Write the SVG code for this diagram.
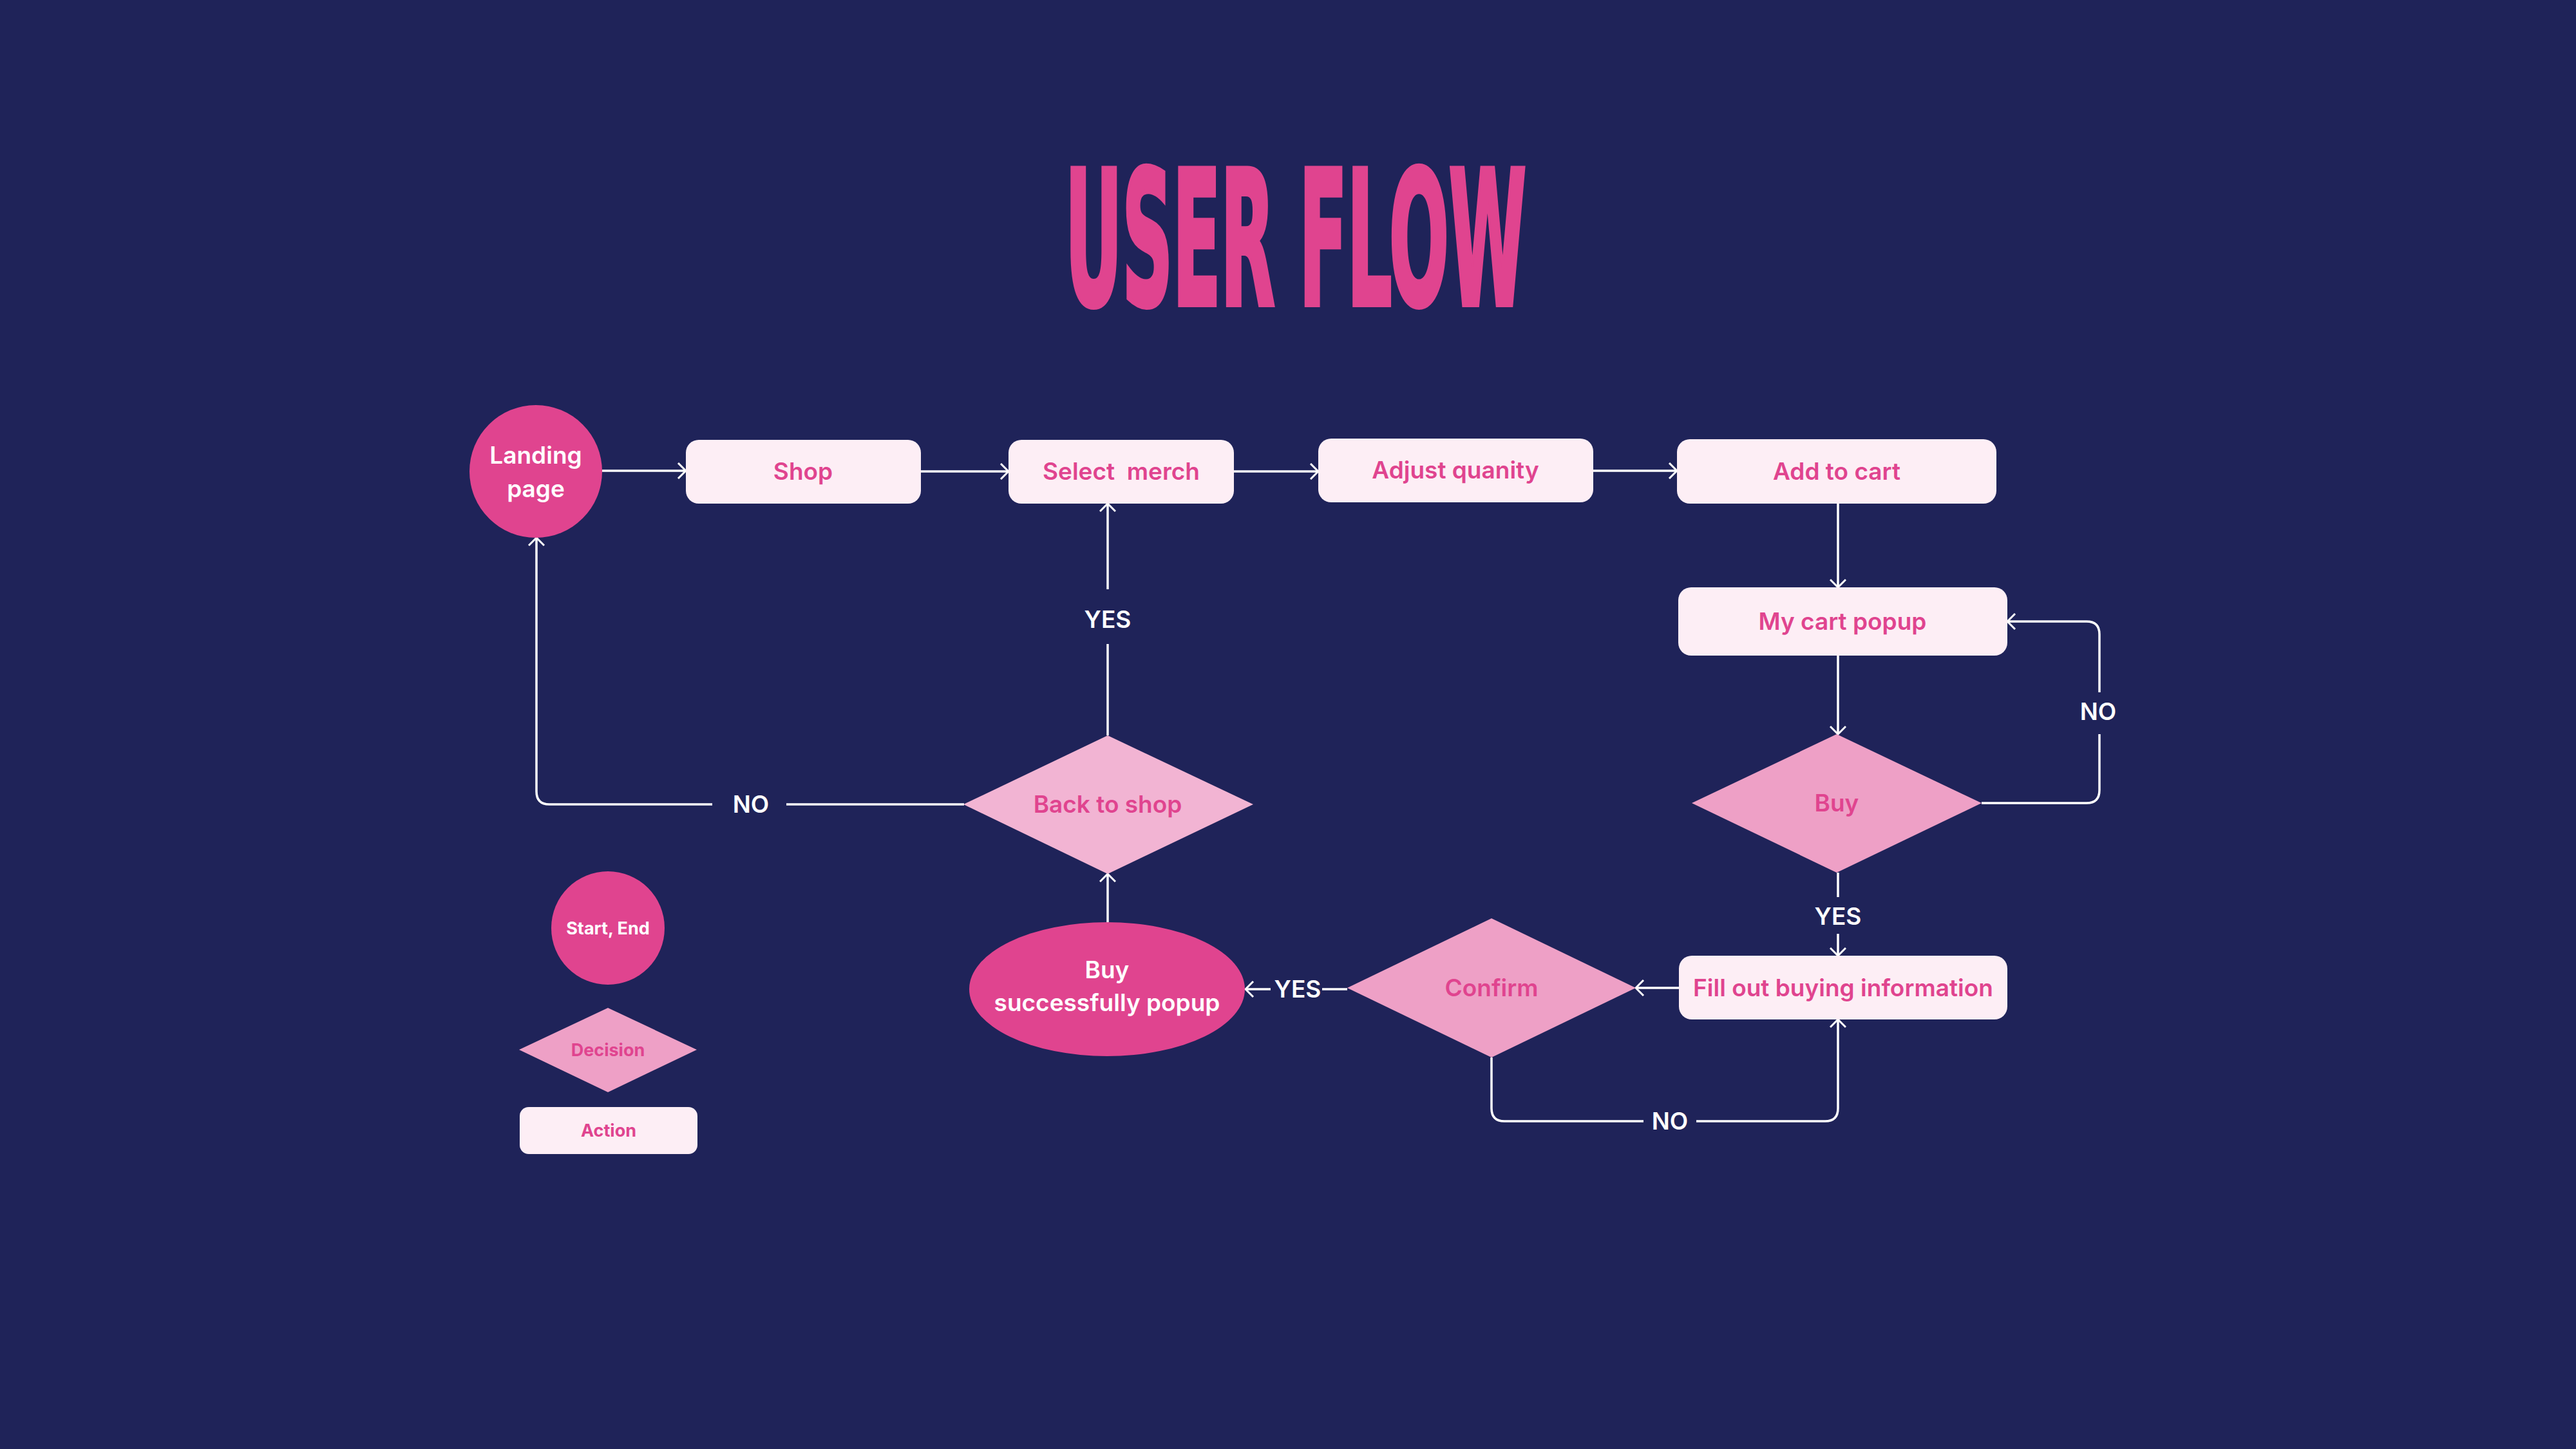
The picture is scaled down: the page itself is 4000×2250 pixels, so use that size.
<svg xmlns="http://www.w3.org/2000/svg" width="4000" height="2250" viewBox="0 0 4000 2250">
<defs>
<style>
.t{font-family:Inter,"Noto Sans","Liberation Sans",sans-serif;font-weight:600;font-size:37px;text-anchor:middle}
.pk{fill:#e0448f}
.wh{fill:#ffffff}
.act{fill:#fdeef5}
.dec{fill:#eea0c6}
.dec2{fill:#f2b4d3}
.se{fill:#e0448f}
.ln{fill:none;stroke:#ffffff;stroke-width:3.5}
.lg{font-size:27px;font-weight:700}
</style>
<marker id="arr" viewBox="0 0 16 26" refX="14" refY="13" markerWidth="16" markerHeight="26" markerUnits="userSpaceOnUse" orient="auto">
<path d="M2,1 L14,13 L2,25" fill="none" stroke="#ffffff" stroke-width="3"/>
</marker>
</defs>
<rect width="4000" height="2250" fill="#1f2359"/>
<text x="2012" y="473" font-family="'DejaVu Sans Condensed','DejaVu Sans',sans-serif" font-weight="bold" font-size="290" fill="#e0448f" stroke="#e0448f" stroke-width="8" stroke-linejoin="miter" text-anchor="middle" textLength="716" lengthAdjust="spacingAndGlyphs">USER FLOW</text>

<g id="connectors">
<path class="ln" marker-end="url(#arr)" d="M935,731 H1065"/>
<path class="ln" marker-end="url(#arr)" d="M1430,732 H1566"/>
<path class="ln" marker-end="url(#arr)" d="M1916,732 H2047"/>
<path class="ln" marker-end="url(#arr)" d="M2474,731 H2604"/>
<path class="ln" marker-end="url(#arr)" d="M2854,782 V912"/>
<path class="ln" marker-end="url(#arr)" d="M2854,1018 V1140"/>
<path class="ln" d="M3077,1247 H3240 Q3260,1247 3260,1227 V1140"/>
<path class="ln" marker-end="url(#arr)" d="M3260,1075 V985 Q3260,965 3240,965 H3117"/>
<path class="ln" d="M2854,1355 V1393"/>
<path class="ln" marker-end="url(#arr)" d="M2854,1450 V1484"/>
<path class="ln" marker-end="url(#arr)" d="M2607,1534 H2540"/>
<path class="ln" d="M2316,1642 V1721 Q2316,1741 2336,1741 H2552"/>
<path class="ln" marker-end="url(#arr)" d="M2634,1741 H2834 Q2854,1741 2854,1721 V1583"/>
<path class="ln" d="M2092,1536 H2053"/>
<path class="ln" marker-end="url(#arr)" d="M1973,1536 H1934"/>
<path class="ln" marker-end="url(#arr)" d="M1720,1432 V1357"/>
<path class="ln" d="M1720,1142 V1000"/>
<path class="ln" marker-end="url(#arr)" d="M1720,915 V782"/>
<path class="ln" d="M1497,1249 H1221"/>
<path class="ln" marker-end="url(#arr)" d="M1106,1249 H853 Q833,1249 833,1229 V835"/>
<text class="t wh" x="1720" y="975">YES</text>
<text class="t wh" x="1166" y="1262">NO</text>
<text class="t wh" x="3258" y="1118">NO</text>
<text class="t wh" x="2854" y="1436">YES</text>
<text class="t wh" x="2015" y="1549">YES</text>
<text class="t wh" x="2593" y="1754">NO</text>
</g>

<g id="landing">
<circle class="se" cx="832" cy="732" r="103"/>
<text class="t wh" x="832" y="720">Landing</text>
<text class="t wh" x="832" y="772">page</text>
</g>
<g id="shop">
<rect class="act" x="1065" y="683" width="365" height="99" rx="20"/>
<text class="t pk" x="1247" y="745">Shop</text>
</g>
<g id="select">
<rect class="act" x="1566" y="683" width="350" height="99" rx="20"/>
<text class="t pk" x="1741" y="745" xml:space="preserve">Select  merch</text>
</g>
<g id="adjust">
<rect class="act" x="2047" y="681" width="427" height="99" rx="20"/>
<text class="t pk" x="2260" y="743">Adjust quanity</text>
</g>
<g id="addcart">
<rect class="act" x="2604" y="682" width="496" height="100" rx="20"/>
<text class="t pk" x="2852" y="745">Add to cart</text>
</g>
<g id="mycart">
<rect class="act" x="2606" y="912" width="511" height="106" rx="20"/>
<text class="t pk" x="2861" y="978">My cart popup</text>
</g>
<g id="buy">
<polygon class="dec" points="2852,1140 3077,1247 2852,1355 2627,1247"/>
<text class="t pk" x="2852" y="1260">Buy</text>
</g>
<g id="fillout">
<rect class="act" x="2607" y="1484" width="510" height="99" rx="20"/>
<text class="t pk" x="2862" y="1547">Fill out buying information</text>
</g>
<g id="confirm">
<polygon class="dec" points="2316,1426 2540,1534 2316,1642 2092,1534"/>
<text class="t pk" x="2316" y="1547">Confirm</text>
</g>
<g id="buysuccess">
<ellipse class="se" cx="1719" cy="1536" rx="214" ry="104"/>
<text class="t wh" x="1719" y="1519">Buy</text>
<text class="t wh" x="1719" y="1570">successfully popup</text>
</g>
<g id="backtoshop">
<polygon class="dec2" points="1720,1142 1946,1249 1720,1357 1496,1249"/>
<text class="t pk" x="1720" y="1262">Back to shop</text>
</g>

<g id="legend-start">
<circle class="se" cx="944" cy="1441" r="88"/>
<text class="t lg wh" x="944" y="1451">Start, End</text>
</g>
<g id="legend-decision">
<polygon class="dec" points="944,1565 1082,1630 944,1696 806,1630"/>
<text class="t lg pk" x="944" y="1640">Decision</text>
</g>
<g id="legend-action">
<rect class="act" x="807" y="1719" width="276" height="73" rx="14"/>
<text class="t lg pk" x="945" y="1765">Action</text>
</g>
</svg>
